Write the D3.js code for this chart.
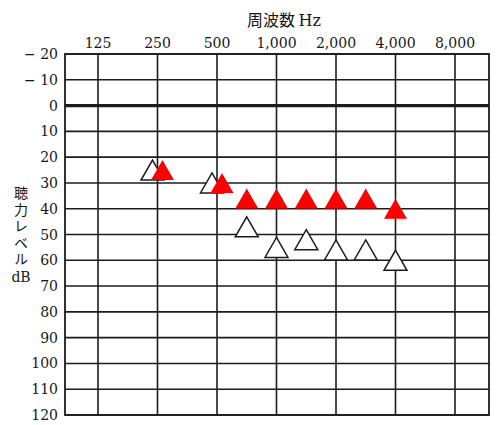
<!DOCTYPE html>
<html>
<head>
<meta charset="utf-8">
<script src="https://cdn.jsdelivr.net/npm/d3@7"></script>
<style>
  body { margin: 0; background: #fff; }
  svg text { fill: #161616; }
</style>
</head>
<body>
<div id="chart"></div>
<script>
// Octave frequencies shown on the top axis
const freqTicks = [125, 250, 500, 1000, 2000, 4000, 8000];
const freqLabels = ["125", "250", "500", "1,000", "2,000", "4,000", "8,000"];
// Hearing level ticks
const dbTicks = [-20, -10, 0, 10, 20, 30, 40, 50, 60, 70, 80, 90, 100, 110, 120];
const dbLabels = ["\u2212 20", "\u2212 10", "0", "10", "20", "30", "40", "50", "60", "70", "80", "90", "100", "110", "120"];

// Measured frequencies
const testFreqs = [250, 500, 750, 1000, 1500, 2000, 3000, 4000];
// Open triangles
const openValues = [25, 30, 47, 55, 52, 56, 56, 60];
// Red filled triangles
const redValues = [25, 30, 36, 36, 36, 36, 36, 40];

// layout
const W = 500, H = 425;
const plot = { left: 65, right: 489, top: 54, bottom: 415 };
const x0 = 98, step = 59.5;

const svg = d3.select("#chart")
    .append("svg")
    .attr("width", W)
    .attr("height", H);

// piecewise linear between octaves (750 sits halfway 500-1000, etc.)
const x = d3.scaleLinear()
    .domain(freqTicks)
    .range(freqTicks.map(function (d, i) { return x0 + i * step; }));

const y = d3.scaleLinear()
    .domain([-20, 120])
    .range([plot.top, plot.bottom]);

const lineColor = "#1c1c1c";

// horizontal grid
svg.selectAll("hline")
    .data(dbTicks)
    .enter()
    .append("line")
    .attr("x1", plot.left)
    .attr("x2", plot.right)
    .attr("y1", function (d) { return y(d); })
    .attr("y2", function (d) { return y(d); })
    .attr("stroke", lineColor)
    .attr("stroke-width", function (d) { return d === 0 ? 3.2 : 1.6; });

// vertical grid
svg.selectAll("vline")
    .data(freqTicks)
    .enter()
    .append("line")
    .attr("x1", function (d) { return x(d); })
    .attr("x2", function (d) { return x(d); })
    .attr("y1", plot.top)
    .attr("y2", plot.bottom)
    .attr("stroke", lineColor)
    .attr("stroke-width", 1.6);

// frame
svg.append("rect")
    .attr("x", plot.left)
    .attr("y", plot.top)
    .attr("width", plot.right - plot.left)
    .attr("height", plot.bottom - plot.top)
    .attr("fill", "none")
    .attr("stroke", lineColor)
    .attr("stroke-width", 1.8);

// top tick labels
svg.selectAll("xlab")
    .data(freqTicks)
    .enter()
    .append("text")
    .attr("x", function (d) { return x(d); })
    .attr("y", 48)
    .attr("text-anchor", "middle")
    .style("font-family", "DejaVu Serif")
    .style("font-size", "14px")
    .text(function (d, i) { return freqLabels[i]; });

// left tick labels
svg.selectAll("ylab")
    .data(dbTicks)
    .enter()
    .append("text")
    .attr("x", 58)
    .attr("y", function (d) { return y(d); })
    .attr("dy", "0.36em")
    .attr("text-anchor", "end")
    .style("font-family", "DejaVu Serif")
    .style("font-size", "14px")
    .text(function (d, i) { return dbLabels[i]; });

// axis titles
const title = svg.append("text")
    .attr("x", 284)
    .attr("y", 26)
    .attr("text-anchor", "middle")
    .style("font-size", "16px");
title.append("tspan")
    .style("font-family", "Noto Sans CJK JP")
    .text("周波数 ");
title.append("tspan")
    .style("font-family", "DejaVu Serif")
    .text("Hz");

// vertical y title
svg.append("text")
    .attr("x", 21)
    .attr("y", 186)
    .style("writing-mode", "vertical-rl")
    .style("text-orientation", "upright")
    .style("letter-spacing", "2.5px")
    .style("font-family", "Noto Sans CJK JP")
    .style("font-size", "14px")
    .text("聴力レベル");

svg.append("text")
    .attr("x", 21)
    .attr("y", 282)
    .attr("text-anchor", "middle")
    .style("font-family", "DejaVu Serif")
    .style("font-size", "14px")
    .text("dB");

// markers
const side = 23, tri = 20;
function triangle(cx, cy) {
    return "M" + cx + "," + (cy - tri / 2) +
        "L" + (cx + side / 2) + "," + (cy + tri / 2) +
        "L" + (cx - side / 2) + "," + (cy + tri / 2) + "Z";
}

const points = testFreqs.map(function (f, i) {
    // dodge the two symbols where they overlap
    const close = Math.abs(openValues[i] - redValues[i]) < 10;
    return { f: f, open: openValues[i], red: redValues[i], dodge: close ? 5 : 0 };
});

svg.selectAll("opentri")
    .data(points)
    .enter()
    .append("path")
    .attr("d", function (d) { return triangle(x(d.f) - d.dodge, y(d.open)); })
    .attr("fill", "#fff")
    .attr("stroke", lineColor)
    .attr("stroke-width", 1.5);

svg.selectAll("redtri")
    .data(points)
    .enter()
    .append("path")
    .attr("d", function (d) { return triangle(x(d.f) + d.dodge, y(d.red)); })
    .attr("fill", "#ff0000");
</script>
</body>
</html>
